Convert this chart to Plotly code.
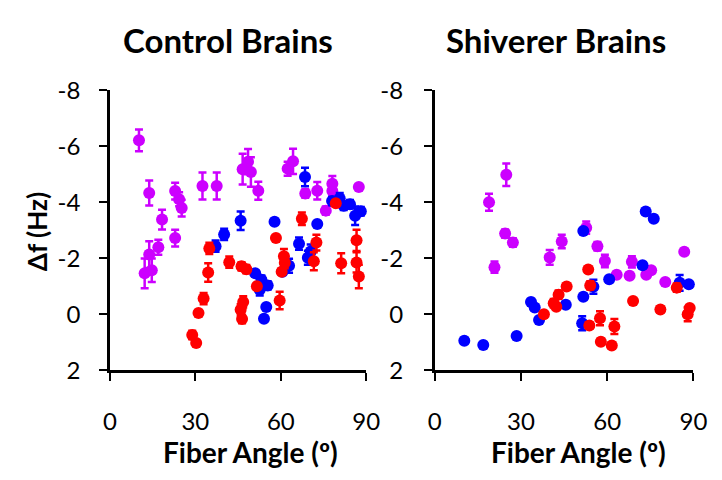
import plotly.graph_objects as go

# ---------------- data ----------------
# Control brains
ctrl_mag_x = [10.2, 13.8, 18.3, 22.9, 24.3, 25.2, 22.9, 17.0, 13.8, 12.2, 14.7, 32.5, 37.5,
              46.6, 48.5, 49.5, 52.1, 62.4, 64.3, 68.6, 72.8, 78.1, 78.1, 75.8, 87.4]
ctrl_mag_y = [-6.21, -4.33, -3.38, -4.40, -4.11, -3.79, -2.72, -2.39, -2.13, -1.46, -1.57, -4.58, -4.58,
              -5.18, -5.45, -5.08, -4.41, -5.20, -5.46, -4.31, -4.41, -4.66, -4.40, -3.70, -4.54]
ctrl_mag_e = [0.39, 0.45, 0.35, 0.30, 0.25, 0.30, 0.30, 0.27, 0.48, 0.53, 0.42, 0.48, 0.48,
              0.55, 0.45, 0.53, 0.32, 0.25, 0.45, 0.15, 0.31, 0.28, 0.15, 0.15, 0.10]

ctrl_blu_x = [37.1, 40.1, 45.9, 57.8, 68.5, 72.8, 78.0, 80.7, 84.3, 82.1, 86.1, 88.1,
              66.4, 70.5, 69.5, 62.9, 60.6, 51.0, 53.2, 55.4, 52.6, 54.9, 54.1]
ctrl_blu_y = [-2.43, -2.85, -3.34, -3.30, -4.90, -3.22, -4.04, -4.13, -3.93, -3.87, -3.52, -3.68,
              -2.52, -2.24, -2.02, -1.73, -1.52, -1.46, -1.23, -1.03, -0.87, -0.26, 0.16]
ctrl_blu_e = [0.20, 0.20, 0.33, 0.10, 0.33, 0.10, 0.15, 0.20, 0.15, 0.15, 0.33, 0.15,
              0.22, 0.25, 0.25, 0.25, 0.10, 0.10, 0.15, 0.15, 0.20, 0.10, 0.10]

ctrl_red_x = [34.9, 34.5, 32.9, 31.1, 28.9, 30.3, 41.9, 46.2, 47.9, 51.6, 46.8, 45.9, 46.4,
              59.6, 58.3, 67.4, 61.1, 61.4, 60.3, 72.5, 71.6, 79.3, 81.2, 86.6, 86.6, 87.4]
ctrl_red_y = [-2.35, -1.49, -0.56, -0.04, 0.74, 1.03, -1.86, -1.71, -1.61, -1.00, -0.44, -0.16, 0.17,
              -0.49, -2.72, -3.41, -2.07, -1.84, -1.52, -2.56, -1.89, -3.96, -1.82, -2.64, -1.85, -1.35]
ctrl_red_e = [0.20, 0.33, 0.20, 0.10, 0.15, 0.10, 0.20, 0.15, 0.15, 0.10, 0.20, 0.20, 0.15,
              0.31, 0.10, 0.22, 0.26, 0.20, 0.10, 0.28, 0.32, 0.10, 0.36, 0.38, 0.36, 0.42]

# Shiverer brains
shiv_mag_x = [18.9, 24.9, 20.8, 24.5, 27.2, 40.0, 44.2, 52.7, 56.6, 59.2, 63.3, 67.8, 68.6,
              73.6, 75.3, 80.2, 86.8]
shiv_mag_y = [-4.00, -4.98, -1.68, -2.88, -2.56, -2.03, -2.60, -3.09, -2.43, -1.90, -1.41, -1.37, -1.87,
              -1.41, -1.57, -1.15, -2.23]
shiv_mag_e = [0.30, 0.40, 0.20, 0.15, 0.15, 0.26, 0.24, 0.22, 0.15, 0.22, 0.10, 0.10, 0.20,
              0.10, 0.10, 0.10, 0.10]

shiv_blu_x = [10.3, 16.9, 28.5, 33.5, 34.8, 36.3, 45.6, 51.7, 55.2, 60.7, 51.3, 51.7, 72.3,
              73.4, 76.2, 85.2, 88.4]
shiv_blu_y = [0.95, 1.10, 0.78, -0.44, -0.24, 0.21, -0.34, -0.62, -0.98, -1.25, 0.32, -2.97, -1.75,
              -3.67, -3.41, -1.12, -1.07]
shiv_blu_e = [0.10, 0.10, 0.10, 0.10, 0.10, 0.10, 0.10, 0.10, 0.25, 0.10, 0.25, 0.10, 0.10,
              0.10, 0.10, 0.28, 0.10]

shiv_red_x = [38.0, 41.4, 42.3, 43.1, 45.9, 53.4, 54.1, 53.8, 57.5, 62.5, 57.8, 61.6, 69.0,
              78.5, 84.2, 88.7, 88.0]
shiv_red_y = [0.00, -0.39, -0.27, -0.70, -0.99, -1.60, -1.03, 0.40, 0.14, 0.44, 0.98, 1.12, -0.47,
              -0.17, -0.95, -0.22, 0.00]
shiv_red_e = [0.10, 0.15, 0.10, 0.15, 0.10, 0.10, 0.15, 0.10, 0.25, 0.27, 0.10, 0.10, 0.10,
              0.10, 0.15, 0.10, 0.25]

x_ticks = [0, 30, 60, 90]
y_ticks = [-8, -6, -4, -2, 0, 2]
y_tick_text = ["-8", "-6", "-4", "-2", "0", "2"]
panel_titles = ["Control Brains", "Shiverer Brains"]
x_title = "Fiber Angle (º)"
y_title = "Δf (Hz)"

MAG = "#CC00FF"
BLU = "#0000FF"
RED = "#FF0000"
FONT = "Lato, sans-serif"

fig = go.Figure()

def add(xs, ys, es, color, xa, ya):
    fig.add_trace(go.Scatter(
        x=xs, y=ys, mode="markers", xaxis=xa, yaxis=ya,
        marker=dict(color=color, size=12, line=dict(width=0)),
        error_y=dict(type="data", array=es, visible=True, color=color,
                     thickness=2.5, width=4),
        showlegend=False, cliponaxis=False))

add(ctrl_mag_x, ctrl_mag_y, ctrl_mag_e, MAG, "x", "y")
add(ctrl_blu_x, ctrl_blu_y, ctrl_blu_e, BLU, "x", "y")
add(ctrl_red_x, ctrl_red_y, ctrl_red_e, RED, "x", "y")
add(shiv_mag_x, shiv_mag_y, shiv_mag_e, MAG, "x2", "y2")
add(shiv_blu_x, shiv_blu_y, shiv_blu_e, BLU, "x2", "y2")
add(shiv_red_x, shiv_red_y, shiv_red_e, RED, "x2", "y2")

W, H = 722, 480
ydom = [(H - 377) / H, (H - 79) / H]

axis_common = dict(showline=True, linecolor="black", linewidth=2.5, ticks="outside",
                   ticklen=8, tickwidth=2, tickcolor="black", showgrid=False, zeroline=False,
                   tickfont=dict(family=FONT, size=24, color="black"))

fig.update_layout(
    width=W, height=H, margin=dict(l=0, r=0, t=0, b=0),
    paper_bgcolor="white", plot_bgcolor="white",
    xaxis=dict(domain=[106 / W, 370 / W], range=[0, 90], tickvals=x_ticks, anchor="y",
               ticklabelstandoff=20, **axis_common),
    yaxis=dict(domain=ydom, range=[2, -8], tickvals=y_ticks, ticktext=y_tick_text, anchor="x",
               ticklabelstandoff=14, **axis_common),
    xaxis2=dict(domain=[440.5 / W, 707 / W], range=[0, 90], tickvals=x_ticks, anchor="y2",
                ticklabelstandoff=20, **axis_common),
    yaxis2=dict(domain=ydom, range=[2, -8], tickvals=y_ticks, ticktext=y_tick_text, anchor="x2",
                ticklabelstandoff=16, **axis_common),
)

bold = dict(family=FONT, size=33, color="black", weight="bold")
fig.add_annotation(text=panel_titles[0], x=228 / W, y=(H - 26) / H, xref="paper", yref="paper",
                   showarrow=False, font=bold, xanchor="center", yanchor="middle")
fig.add_annotation(text=panel_titles[1], x=565 / W, y=(H - 26) / H, xref="paper", yref="paper",
                   showarrow=False, font=bold, xanchor="center", yanchor="middle")
lab = dict(family=FONT, size=28, color="black", weight="bold")
fig.add_annotation(text=x_title, x=251 / W, y=(H - 464) / H, xref="paper", yref="paper",
                   showarrow=False, font=lab, xanchor="center", yanchor="middle")
fig.add_annotation(text=x_title, x=589 / W, y=(H - 464) / H, xref="paper", yref="paper",
                   showarrow=False, font=lab, xanchor="center", yanchor="middle")
fig.add_annotation(text=y_title, x=31 / W, y=(H - 230) / H, xref="paper", yref="paper",
                   showarrow=False, font=dict(family=FONT, size=26, color="black", weight="bold"),
                   textangle=-90, xanchor="center", yanchor="middle")

fig.write_html(
    "out.html",
    config={"displayModeBar": False, "responsive": False},
    post_script=(
        "document.documentElement.style.margin='0px';"
        "document.documentElement.style.overflow='hidden';"
        "document.body.style.margin='0px';document.body.style.padding='0px';"
        "document.body.style.overflow='hidden';"
        "var gd=document.getElementById('{plot_id}');"
        "gd.style.position='fixed';gd.style.left='0px';gd.style.top='0px';"
    ),
)
